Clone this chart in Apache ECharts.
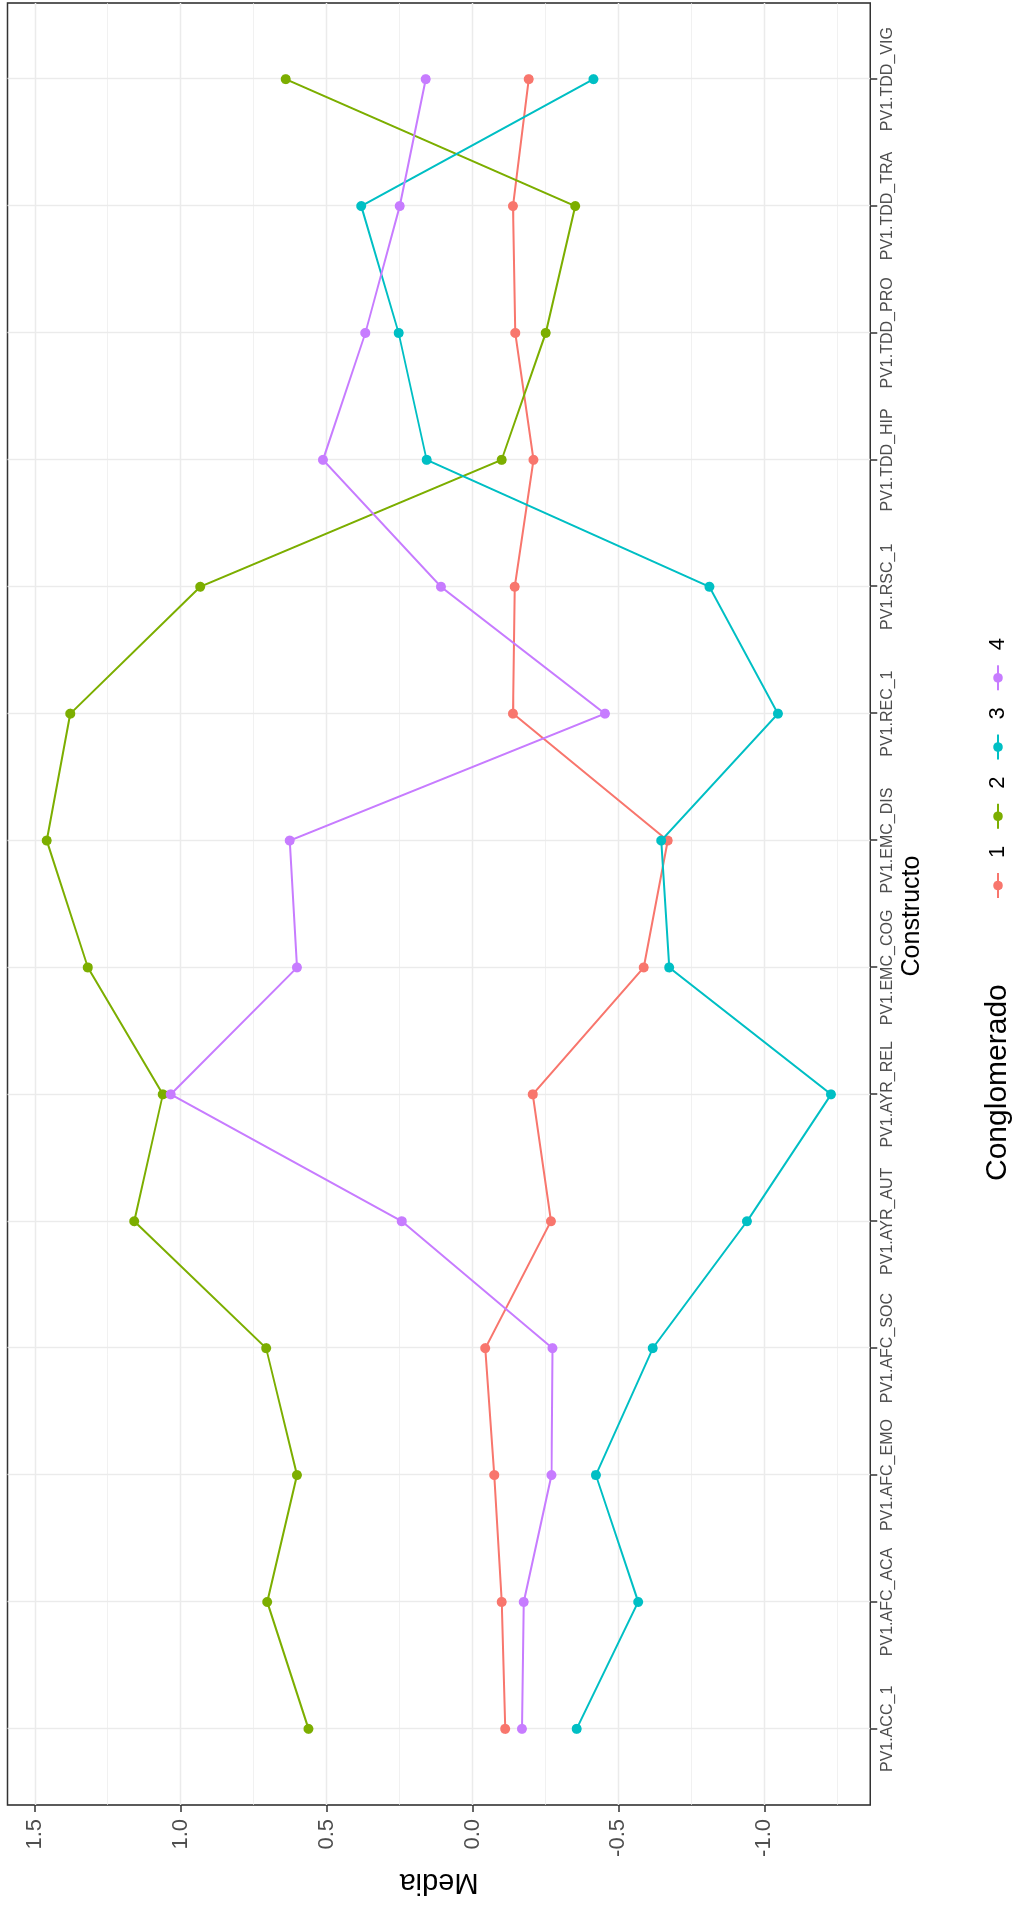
<!DOCTYPE html>
<html>
<head>
<meta charset="utf-8">
<script src="https://cdn.jsdelivr.net/npm/echarts@6/dist/echarts.min.js"></script>
<style>
  html, body { margin: 0; padding: 0; background: #ffffff; }
  body { width: 1017px; height: 1910px; overflow: hidden; position: relative; }
  /* The chart is laid out landscape and turned a quarter turn counter-clockwise onto the portrait page */
  #chart {
    position: absolute; left: 0; top: 0;
    width: 1910px; height: 1017px;
    transform-origin: 0 0;
    transform: translate(0px, 1910px) rotate(-90deg);
  }
</style>
</head>
<body>
<div id="chart"></div>
<script>
// Constructs on the horizontal axis
const categories = [
  'PV1.ACC_1', 'PV1.AFC_ACA', 'PV1.AFC_EMO', 'PV1.AFC_SOC', 'PV1.AYR_AUT',
  'PV1.AYR_REL', 'PV1.EMC_COG', 'PV1.EMC_DIS', 'PV1.REC_1', 'PV1.RSC_1',
  'PV1.TDD_HIP', 'PV1.TDD_PRO', 'PV1.TDD_TRA', 'PV1.TDD_VIG'
];

// Mean per construct for each cluster
const cluster1 = [-0.112, -0.100, -0.075, -0.044, -0.269, -0.207, -0.587, -0.669, -0.139, -0.145, -0.209, -0.147, -0.139, -0.193];
const cluster2 = [0.562, 0.703, 0.601, 0.707, 1.159, 1.061, 1.318, 1.459, 1.378, 0.933, -0.100, -0.251, -0.352, 0.640];
const cluster3 = [-0.357, -0.568, -0.423, -0.618, -0.941, -1.229, -0.674, -0.647, -1.047, -0.812, 0.157, 0.253, 0.381, -0.415];
const cluster4 = [-0.170, -0.176, -0.271, -0.274, 0.242, 1.034, 0.601, 0.626, -0.454, 0.108, 0.512, 0.367, 0.249, 0.160];

const clusterNames = ['1', '2', '3', '4'];
const clusterValues = [cluster1, cluster2, cluster3, cluster4];
const clusterColors = ['#F8766D', '#7CAE00', '#00BFC4', '#C77CFF'];

// Tick labels of the "Media" axis, plus the minor grid positions between them
const mediaTicks = [-1.0, -0.5, 0.0, 0.5, 1.0, 1.5];
const mediaMinor = [-1.25, -0.75, -0.25, 0.25, 0.75, 1.25];

const FONT = "'Liberation Sans', Arial, Helvetica, sans-serif";

// Continuous range padded by 5% on each side, discrete range padded by 0.6 of a step
const allValues = [].concat(...clusterValues);
const lo = Math.min(...allValues), hi = Math.max(...allValues);
const pad = (hi - lo) * 0.05;
const catIdx = categories.map((_, i) => i);

const chart = echarts.init(document.getElementById('chart'), null, { width: 1910, height: 1017, renderer: 'canvas' });

const tickLine = { color: '#333333', width: 1.5 };
const gridLine = { color: '#EBEBEB', width: 1.4 };

const option = {
  animation: false,
  backgroundColor: '#ffffff',
  grid: {
    left: 105, right: 3, top: 7.5, bottom: 146.7,
    show: true, borderColor: '#333333', borderWidth: 1.6, backgroundColor: '#ffffff',
    containLabel: false, outerBoundsMode: 'none'
  },
  xAxis: {
    type: 'value',
    min: -0.6, max: categories.length - 1 + 0.6,
    axisLine: { show: false, onZero: false },
    axisTick: { show: true, customValues: catIdx, length: 7, lineStyle: tickLine },
    axisLabel: {
      customValues: catIdx,
      formatter: v => categories[Math.round(v)],
      fontSize: 16, color: '#4D4D4D', fontFamily: FONT, margin: 9
    },
    splitLine: { show: true, lineStyle: gridLine }
  },
  yAxis: [
    {
      type: 'value',
      min: lo - pad, max: hi + pad,
      axisLine: { show: false, onZero: false },
      axisTick: { show: true, customValues: mediaTicks, length: 7, lineStyle: tickLine },
      axisLabel: {
        customValues: mediaTicks,
        formatter: v => Number(v).toFixed(1),
        fontSize: 22, color: '#4D4D4D', fontFamily: FONT, margin: 14
      },
      splitLine: { show: true, lineStyle: gridLine }
    },
    {
      // minor grid only
      type: 'value', position: 'right',
      min: lo - pad, max: hi + pad,
      axisLine: { show: false, onZero: false },
      axisTick: { show: false, customValues: mediaMinor },
      axisLabel: { show: false },
      splitLine: { show: true, lineStyle: { color: '#EBEBEB', width: 0.7 } }
    }
  ],
  legend: {
    data: clusterNames,
    orient: 'horizontal',
    left: 1011, top: 987, padding: 0,
    itemWidth: 25, itemHeight: 12, itemGap: 16,
    selectedMode: false,
    textStyle: { fontSize: 22, color: '#000000', fontFamily: FONT, padding: [0, 0, 0, 10] }
  },
  graphic: [
    {
      type: 'text', x: 28, y: 439, rotation: Math.PI / 2,
      style: { text: 'Media', fontSize: 29, fontFamily: FONT, fill: '#000000', align: 'center', verticalAlign: 'middle' }
    },
    {
      type: 'text', x: 994, y: 912,
      style: { text: 'Constructo', fontSize: 25, fontFamily: FONT, fill: '#000000', align: 'center', verticalAlign: 'middle' }
    },
    {
      type: 'text', x: 729, y: 998,
      style: { text: 'Conglomerado', fontSize: 30, fontFamily: FONT, fill: '#000000', align: 'left', verticalAlign: 'middle' }
    }
  ],
  series: clusterNames.map((name, k) => ({
    name: name,
    type: 'line',
    xAxisIndex: 0, yAxisIndex: 0,
    data: clusterValues[k].map((v, i) => [i, v]),
    symbol: 'circle',
    symbolSize: 10,
    showAllSymbol: true,
    itemStyle: { color: clusterColors[k] },
    lineStyle: { color: clusterColors[k], width: 2 },
    emphasis: { disabled: true },
    z: 2 + k
  }))
};

chart.setOption(option);
</script>
</body>
</html>
